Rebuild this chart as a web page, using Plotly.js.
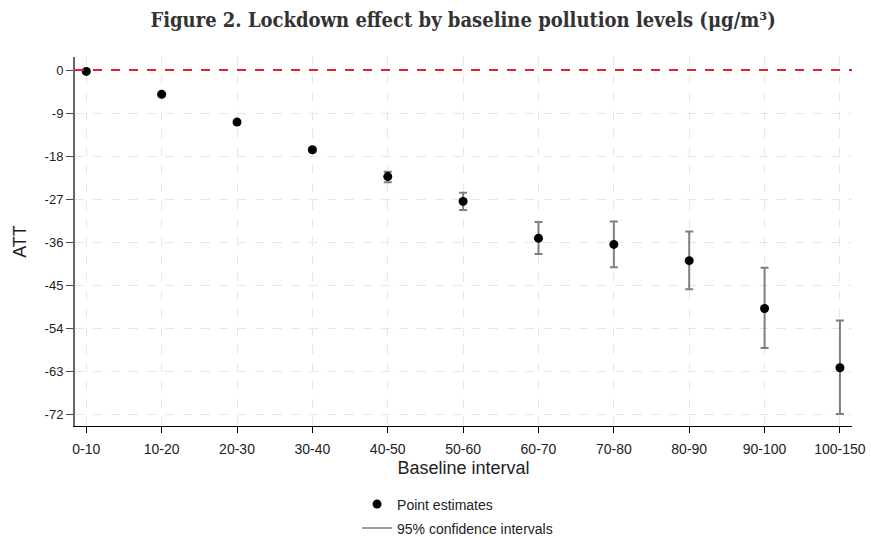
<!DOCTYPE html>
<html><head><meta charset="utf-8">
<script src="https://cdn.plot.ly/plotly-3.0.1.min.js"></script>
<style>html,body{margin:0;padding:0;background:#fff}#chart{width:871px;height:538px}</style>
</head><body><div id="chart"></div>
<script>
const categories = ["0-10","10-20","20-30","30-40","40-50","50-60","60-70","70-80","80-90","90-100","100-150"];
const att = [-0.3,-5.1,-10.9,-16.7,-22.3,-27.5,-35.2,-36.5,-39.9,-49.9,-62.3];
const ciUpper = [-0.1,-4.8,-10.6,-16.3,-21.3,-25.7,-31.8,-31.7,-33.8,-41.4,-52.4];
const ciLower = [-0.5,-5.4,-11.2,-17.1,-23.5,-29.3,-38.5,-41.3,-45.9,-58.2,-72.0];
const yTicks = [0,-9,-18,-27,-36,-45,-54,-63,-72];

const xs = categories.map((c,i)=>i);
const errPlus = att.map((v,i)=>ciUpper[i]-v);
const errMinus = att.map((v,i)=>v-ciLower[i]);

const traces = [
  {x: xs, y: att, type:'scatter', mode:'markers', name:'Point estimates',
   marker:{color:'#000', size:9},
   error_y:{type:'data', symmetric:false, array:errPlus, arrayminus:errMinus,
            color:'#7f7f7f', thickness:2, width:4},
   showlegend:true, legend:'legend'},
  {x:[null], y:[null], type:'scatter', mode:'lines', name:'95% confidence intervals',
   line:{color:'#7f7f7f', width:1.5}, showlegend:true, legend:'legend2'}
];

const layout = {
  width:871, height:538,
  margin:{l:75, r:19, t:57, b:112, autoexpand:false},
  paper_bgcolor:'#fff', plot_bgcolor:'#fff',
  font:{family:'Liberation Sans, Arial, sans-serif', color:'#222', size:13},
  title:{text:'<b>Figure 2. Lockdown effect by baseline pollution levels (μg/m³)</b>',
         x:0.5316, xanchor:'center', y:0.963, yanchor:'middle',
         font:{family:'DejaVu Serif Condensed, DejaVu Serif, serif', size:20, color:'#333'}},
  xaxis:{range:[-0.15,10.16], tickmode:'array', tickvals:xs, ticktext:categories,
         showgrid:true, gridcolor:'#e3e6ea', griddash:'dash', gridwidth:1,
         zeroline:false, showline:true, linecolor:'#000', linewidth:1,
         ticks:'outside', ticklen:6, tickcolor:'#000', ticklabelstandoff:4,
         tickfont:{size:14, color:'#222'},
         title:{text:'Baseline interval', font:{size:18, color:'#222'}, standoff:5}},
  yaxis:{range:[-74.5,2.72], tickmode:'array', tickvals:yTicks, ticktext:yTicks.map(String),
         showgrid:true, gridcolor:'#e3e6ea', griddash:'dash', gridwidth:1,
         zeroline:false, showline:true, linecolor:'#666', linewidth:2,
         ticks:'outside', ticklen:7, tickcolor:'#444', tickfont:{size:13, color:'#222'},
         title:{text:'ATT', font:{size:18, color:'#222'}, standoff:13}},
  shapes:[{type:'line', xref:'paper', x0:0, x1:1, yref:'y', y0:0, y1:0,
           line:{color:'#e0202a', width:2, dash:'dash'}, layer:'above'}],
  legend:{orientation:'v', x:0.363, xanchor:'left', y:-0.1694, yanchor:'top',
          font:{size:14, color:'#222'}, bgcolor:'rgba(0,0,0,0)'},
  legend2:{orientation:'v', x:0.363, xanchor:'left', y:-0.2344, yanchor:'top',
          font:{size:14, color:'#222'}, bgcolor:'rgba(0,0,0,0)'}
};

Plotly.newPlot('chart', traces, layout, {displayModeBar:false, staticPlot:true});
</script>
</body></html>
